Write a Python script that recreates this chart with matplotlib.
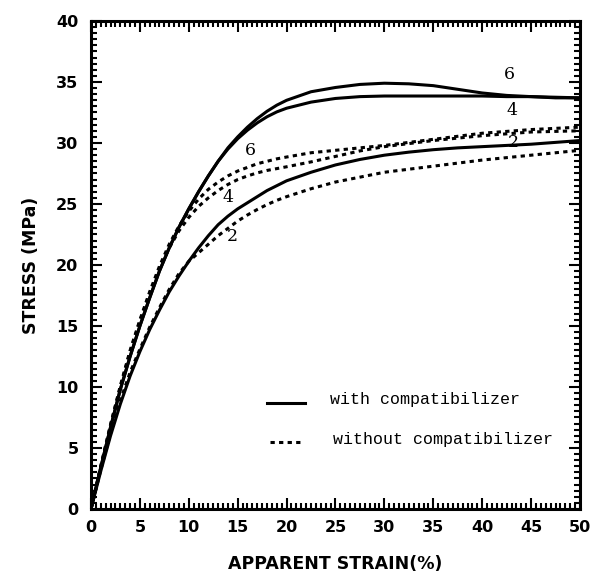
import matplotlib
matplotlib.use("Agg")
import matplotlib.pyplot as plt
from matplotlib.ticker import MultipleLocator

# apparent strain (%) and stress (MPa)
strain = [0, 1, 2, 3, 4, 5, 6, 7, 8, 9, 10, 11, 12, 13, 14, 15, 16, 17, 18, 19,
          20, 22.5, 25, 27.5, 30, 32.5, 35, 37.5, 40, 42.5, 45, 47.5, 50]

with_6 = [0, 3.4, 6.7, 9.8, 12.5, 15.0, 17.3, 19.5, 21.4, 23.1, 24.6, 26.0,
          27.3, 28.5, 29.6, 30.5, 31.3, 32.0, 32.6, 33.1, 33.5, 34.2, 34.55,
          34.8, 34.9, 34.85, 34.7, 34.4, 34.1, 33.9, 33.8, 33.7, 33.7]
with_4 = [0, 3.4, 6.7, 9.8, 12.5, 15.0, 17.3, 19.5, 21.4, 23.1, 24.6, 26.0,
          27.3, 28.5, 29.5, 30.35, 31.05, 31.65, 32.15, 32.55, 32.85, 33.35,
          33.65, 33.8, 33.85, 33.85, 33.85, 33.85, 33.85, 33.8, 33.8, 33.75, 33.7]
with_2 = [0, 3.1, 6.0, 8.6, 10.9, 12.9, 14.7, 16.3, 17.8, 19.1, 20.3, 21.4,
          22.4, 23.3, 24.0, 24.6, 25.1, 25.6, 26.1, 26.5, 26.9, 27.6, 28.2,
          28.65, 29.0, 29.25, 29.45, 29.6, 29.7, 29.8, 29.9, 30.05, 30.2]

without_6 = [0, 3.5, 6.9, 10.1, 13.0, 15.5, 17.8, 19.9, 21.7, 23.2, 24.4, 25.4,
             26.2, 26.8, 27.3, 27.7, 28.0, 28.3, 28.5, 28.7, 28.85, 29.2, 29.4,
             29.6, 29.8, 30.05, 30.3, 30.55, 30.8, 30.95, 31.1, 31.2, 31.3]
without_4 = [0, 3.5, 6.9, 10.0, 12.9, 15.4, 17.7, 19.7, 21.4, 22.8, 23.9, 24.8,
             25.5, 26.1, 26.6, 27.0, 27.3, 27.55, 27.75, 27.9, 28.05, 28.45, 28.9,
             29.35, 29.7, 29.95, 30.2, 30.4, 30.6, 30.75, 30.9, 30.95, 31.0]
without_2 = [0, 3.2, 6.2, 8.9, 11.2, 13.1, 14.9, 16.5, 18.0, 19.3, 20.3, 21.0,
             21.7, 22.4, 23.0, 23.6, 24.1, 24.55, 24.95, 25.3, 25.6, 26.25, 26.8,
             27.2, 27.6, 27.85, 28.1, 28.35, 28.6, 28.8, 29.0, 29.2, 29.4]

# curve labels: (text, x, y)
solid_labels = [("6", 42.8, 35.6), ("4", 43.0, 32.7), ("2", 43.2, 30.0)]
dotted_labels = [("6", 16.3, 29.4), ("4", 14.0, 25.5), ("2", 14.5, 22.3)]

fig = plt.figure(figsize=(5.97, 5.75), dpi=100)
ax = fig.add_axes([0.1524, 0.1148, 0.8191, 0.8487])

lw = 2.2
dots = (0, (1.4, 1.4))
for ys in (with_6, with_4, with_2):
    ax.plot(strain, ys, color="black", lw=lw, solid_joinstyle="round")
for ys in (without_6, without_4, without_2):
    ax.plot(strain, ys, color="black", lw=lw, linestyle=dots)

serif = "DejaVu Serif"
for t, x, y in solid_labels + dotted_labels:
    ax.text(x, y, t, fontsize=12.5, family=serif, ha="center", va="center")

# legend drawn by hand inside the axes
mono = "Liberation Mono"
ax.plot([18.0, 21.9], [8.7, 8.7], color="black", lw=lw)
ax.plot([18.3, 21.7], [5.5, 5.5], color="black", lw=lw, linestyle=dots)
ax.text(24.4, 9.0, "with compatibilizer", fontsize=12, family=mono, va="center")
ax.text(24.7, 5.7, "without compatibilizer", fontsize=12, family=mono, va="center")

ax.set_xlim(0, 50)
ax.set_ylim(0, 40)
ax.xaxis.set_major_locator(MultipleLocator(5))
ax.xaxis.set_minor_locator(MultipleLocator(0.5))
ax.yaxis.set_major_locator(MultipleLocator(5))
ax.yaxis.set_minor_locator(MultipleLocator(0.5))
ax.tick_params(which="both", direction="in", top=True, right=True, width=1.5)
ax.tick_params(which="major", length=8)
ax.tick_params(which="minor", length=4.5)
ax.tick_params(axis="x", pad=8)
ax.tick_params(axis="y", pad=9)
for lab in ax.get_xticklabels() + ax.get_yticklabels():
    lab.set_fontweight("bold")
    lab.set_fontsize(11.5)
for sp in ax.spines.values():
    sp.set_linewidth(2.2)

ax.set_xlabel("APPARENT STRAIN(%)", fontsize=12.5, fontweight="bold", labelpad=14)
ax.set_ylabel("STRESS (MPa)", fontsize=12.5, fontweight="bold", labelpad=12)

fig.savefig("out.png", dpi=100)
